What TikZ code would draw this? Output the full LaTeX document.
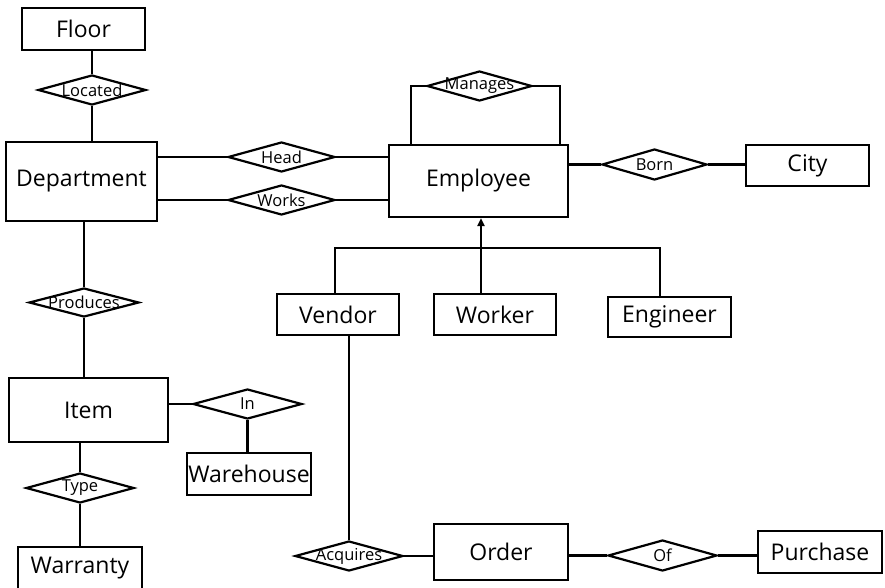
\documentclass[tikz,border=0pt]{standalone}
\usepackage{fontspec}
\setmainfont{Open Sans}
\usetikzlibrary{shapes.geometric,arrows.meta}
\begin{document}
\begin{tikzpicture}[x=1pt,y=-1pt,
  conn/.style={line width=2.2pt},
  ent/.style={draw,line width=2.2pt,inner sep=0pt,font=\fontsize{23}{26}\selectfont},
  rel/.style={draw,diamond,line width=2.2pt,inner sep=0pt,label={[font=\fontsize{16.5}{18}\selectfont]center:#1}},
  sz/.style 2 args={minimum width=#1,minimum height=#2}]
\useasboundingbox (0,0) rectangle (885,587);
\clip (0,0) rectangle (885,587);
% entities
\node[ent,sz={123pt}{42pt}] (floor) at (83.5,29) {Floor};
\node[ent,sz={151pt}{79pt}] (dep) at (81.5,181.5) {Department};
\node[ent,sz={179pt}{72pt}] (emp) at (478.5,181) {Employee};
\node[ent,sz={123pt}{41pt}] (city) at (807.5,165.5) {City};
\node[ent,sz={122pt}{41pt}] (vendor) at (338,314.5) {Vendor};
\node[ent,sz={122pt}{41pt}] (worker) at (495,314.5) {Worker};
\node[ent,sz={123pt}{40pt}] (eng) at (669.5,317) {Engineer};
\node[ent,sz={159pt}{64pt}] (item) at (88.5,410) {Item};
\node[ent,sz={124pt}{42pt}] (wh) at (249,474) {Warehouse};
\node[ent,sz={124pt}{60pt}] (war) at (80,577) {};
\node[font=\fontsize{23}{26}\selectfont] at (80,568) {Warranty};
\node[ent,sz={134pt}{56pt}] (order) at (501,552) {Order};
\node[ent,sz={124pt}{42pt}] (pur) at (820,552) {Purchase};
% relationships
\node[rel=Located,sz={108pt}{30pt}] (loc) at (92,90) {};
\node[rel=Head,sz={107pt}{30pt}] (head) at (281.5,157) {};
\node[rel=Works,sz={107pt}{30pt}] (works) at (281.5,200) {};
\node[rel=Manages,sz={105pt}{30pt}] (man) at (479.5,86) {};
\node[rel=Born,sz={105pt}{31pt}] (born) at (654.5,164.5) {};
\node[rel=Produces,sz={110pt}{29pt}] (prod) at (84,302.5) {};
\node[rel=In,sz={109pt}{30pt}] (in) at (247.5,404) {};
\node[rel=Type,sz={108pt}{30pt}] (type) at (80,488) {};
\node[rel=Acquires,sz={108pt}{30pt}] (acq) at (349,556) {};
\node[rel=Of,sz={109pt}{31pt}] (of) at (662.5,555.5) {};
% connectors
\draw[conn] (loc.north) -- (loc.north |- floor.south);
\draw[conn] (loc.south) -- (loc.south |- dep.north);
\draw[conn] (head.west) -- (head.west -| dep.east);
\draw[conn] (head.east) -- (head.east -| emp.west);
\draw[conn] (works.west) -- (works.west -| dep.east);
\draw[conn] (works.east) -- (works.east -| emp.west);
\draw[conn] (man.west) -| ([xshift=-67.5pt]emp.north);
\draw[conn] (man.east) -| ([xshift=81.5pt]emp.north);
\draw[conn] (born.west) -- (born.west -| emp.east);
\draw[conn] (born.east) -- (born.east -| city.west);
\draw[conn] (prod.north) -- (prod.north |- dep.south);
\draw[conn] (prod.south) -- (prod.south |- item.north);
\draw[conn] (in.west) -- (in.west -| item.east);
\draw[conn] (in.south) -- (in.south |- wh.north);
\draw[conn] (type.north) -- (type.north |- item.south);
\draw[conn] (type.south) -- (type.south |- war.north);
\draw[conn] (acq.north) -- (acq.north |- vendor.south);
\draw[conn] (acq.east) -- (acq.east -| order.west);
\draw[conn] (of.west) -- (of.west -| order.east);
\draw[conn] (of.east) -- (of.east -| pur.west);
% generalisation
\coordinate (isa) at (481,248);
\draw[conn,-{Triangle[length=8pt,width=7pt]}] (isa |- worker.north) -- (isa |- emp.south);
\draw[conn] ([xshift=-3pt]vendor.north) |- (isa) -| ([xshift=-9.5pt]eng.north);
\end{tikzpicture}
\end{document}
